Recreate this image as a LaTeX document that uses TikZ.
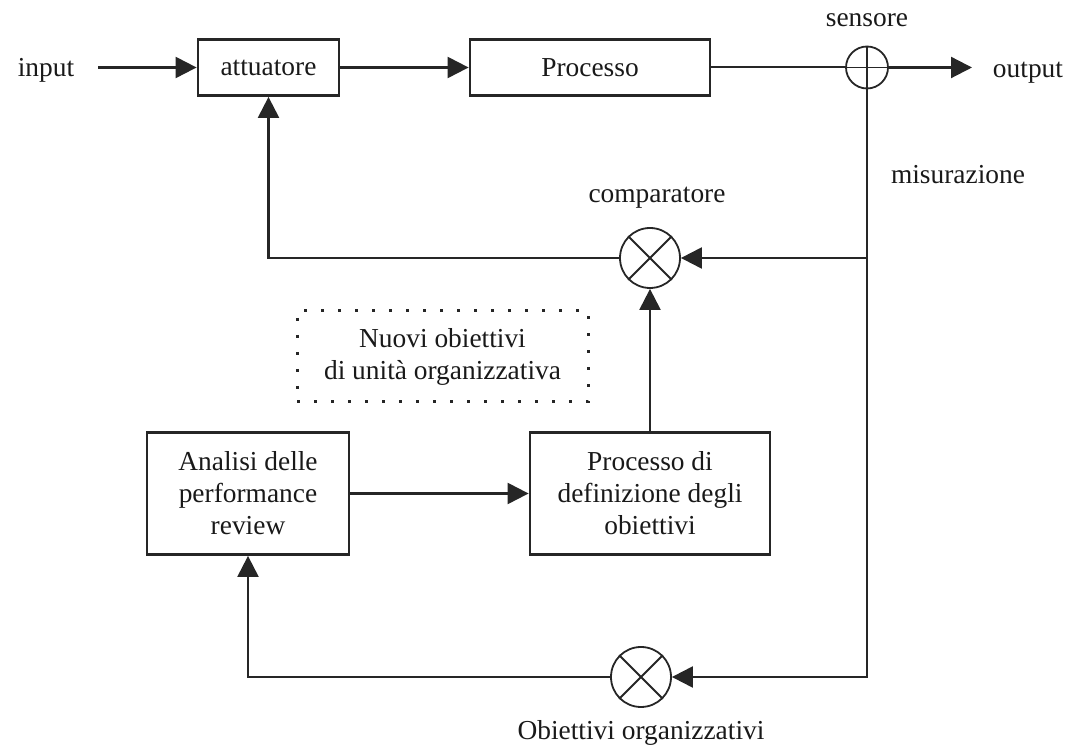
\documentclass[tikz,border=0pt]{standalone}
\usepackage{fontspec}
\setmainfont{Liberation Serif}
\usetikzlibrary{arrows.meta,shapes.geometric}
\begin{document}
\begin{tikzpicture}[x=0.5pt,y=-0.5pt,
  font=\fontsize{13.7}{16}\selectfont,
  every node/.style={text=black!90},
  block/.style={draw=black!85,line width=1.4pt,inner sep=0pt,align=center},
  junction/.style={draw=black!85,line width=0.9pt,circle,inner sep=0pt,minimum size=#1},
  conn/.style={draw=black!85,line width=1.1pt,-{Triangle[length=10.5pt,width=10.5pt]}},
  label/.style={inner sep=0pt},
  notebox/.style={draw=black!85,line width=1.5pt,dash pattern=on 1.5pt off 7pt,
    inner sep=0pt,align=center}]
\useasboundingbox (0,0) rectangle (1066,747);

% blocks
\node[block,minimum width=70.5pt,minimum height=28pt] (att) at (268.5,67.5) {attuatore};
\node[block,minimum width=120pt,minimum height=28pt] (proc) at (590,67.5) {Processo};
\node[block,minimum width=101pt,minimum height=61pt] (ana) at (248,493.5)
  {Analisi delle\\performance\\review};
\node[block,minimum width=120pt,minimum height=61pt] (pdef) at (650,493.5)
  {Processo di\\definizione degli\\obiettivi};
\node[notebox,minimum width=145.5pt,minimum height=45.5pt] (note) at (442.5,356.5)
  {Nuovi obiettivi\\di unità organizzativa};

% summing and comparing junctions
\node[junction=21pt] (sens) at (867,67.5) {};
\draw[line width=0.9pt,black!85] (sens.north) -- (sens.south) (sens.west) -- (sens.east);
\node[junction=30pt] (comp) at (650,258) {};
\draw[line width=0.9pt,black!85] (comp.north east) -- (comp.south west)
  (comp.north west) -- (comp.south east);
\node[junction=30pt] (obj) at (641,677) {};
\draw[line width=0.9pt,black!85] (obj.north east) -- (obj.south west)
  (obj.north west) -- (obj.south east);

% labels
\node[label] (in) at (46,70) {input};
\node[label] (out) at (1028,73) {output};
\node[label] (sl) at (867,20) {sensore};
\node[label] (ml) at (958,175) {misurazione};
\node[label] (cl) at (657,198) {comparatore};
\node[label] (ol) at (641,733) {Obiettivi organizzativi};

% free ends and branch point
\coordinate (inend) at (98,67.5);
\coordinate (outend) at (972,67.5);
\coordinate (tap) at (867,258);

% forward path
\draw[conn] (inend) -- (att.west);
\draw[conn] (att.east) -- (proc.west);
\draw[draw=black!85,line width=1pt] (proc.east) -- (sens.west);
\draw[conn] (sens.east) -- (outend);

% feedback loops
\draw[conn] (sens.south) |- (obj.east);
\draw[conn] (tap) -- (comp.east);
\draw[conn] (comp.west) -| (att.south);
\draw[conn] (obj.west) -| (ana.south);
\draw[conn] (ana.east) -- (pdef.west);
\draw[conn] (pdef.north) -- (comp.south);
\end{tikzpicture}
\end{document}
